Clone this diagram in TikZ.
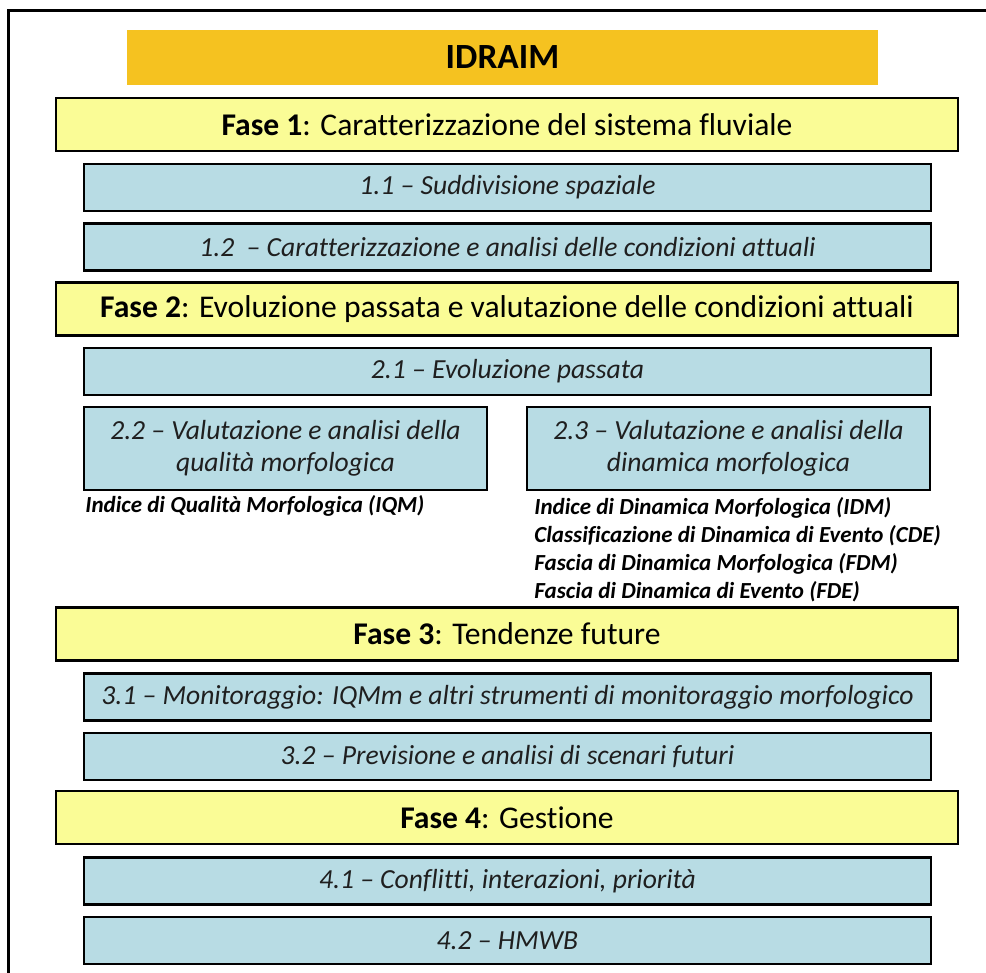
\documentclass[tikz,border=0pt]{standalone}
\usepackage{fontspec}
\setmainfont{Carlito}[Ligatures=NoCommon]
\definecolor{idraimorange}{RGB}{245,194,32}
\definecolor{faseyellow}{RGB}{250,252,150}
\definecolor{subblue}{RGB}{184,220,228}
\begin{document}
\begin{tikzpicture}[x=0.5pt,y=-0.5pt,
    fase/.style={draw, line width=1.2pt, fill=faseyellow, minimum width=451pt, minimum height=26.5pt, inner sep=0pt, font=\fontsize{15.8}{18}\selectfont},
    sub/.style={draw, line width=1.2pt, fill=subblue, minimum width=423.5pt, minimum height=23.5pt, inner sep=0pt, text=black!88, font=\fontsize{13.8}{16}\selectfont\itshape},
    subhalf/.style={sub, minimum width=201.5pt, minimum height=41.5pt, align=center},
    sigla/.style={inner sep=0pt, align=left, font=\fontsize{11.5}{14}\selectfont\bfseries\itshape}]
\useasboundingbox (0,0) rectangle (986,973);
\draw[line width=1.5pt] (8.5,973) -- (8.5,10.5) -- (986,10.5);
\node[fill=idraimorange, minimum width=375.5pt, minimum height=27.5pt, inner sep=0pt, font=\fontsize{17.7}{20}\selectfont\bfseries] (idraim) at (502.5,57.5) {IDRAIM};
\node[fase] (fase1) at (507,124.5) {\textbf{Fase 1}: Caratterizzazione del sistema fluviale};
\node[sub] (s11) at (507.5,187.5) {1.1 -- Suddivisione spaziale};
\node[sub] (s12) at (507.5,247) {1.2 \ -- Caratterizzazione e analisi delle condizioni attuali};
\node[fase] (fase2) at (507,309) {\textbf{Fase 2}: Evoluzione passata e valutazione delle condizioni attuali};
\node[sub] (s21) at (507.5,371.5) {2.1 -- Evoluzione passata};
\node[subhalf] (s22) at (285.5,448.5) {2.2 -- Valutazione e analisi della\\qualità morfologica};
\node[subhalf] (s23) at (728.5,448.5) {2.3 -- Valutazione e analisi della\\dinamica morfologica};
\node[sigla, anchor=west] (iqm) at (85,506) {Indice di Qualità Morfologica (IQM)};
\node[sigla, anchor=north west] (idm) at (534,497) {Indice di Dinamica Morfologica (IDM)\\Classificazione di Dinamica di Evento (CDE)\\Fascia di Dinamica Morfologica (FDM)\\Fascia di Dinamica di Evento (FDE)};
\node[fase] (fase3) at (507,634) {\textbf{Fase 3}: Tendenze future};
\node[sub] (s31) at (507.5,697) {3.1 -- Monitoraggio: IQMm e altri strumenti di monitoraggio morfologico};
\node[sub] (s32) at (507.5,756.5) {3.2 -- Previsione e analisi di scenari futuri};
\node[fase] (fase4) at (507,817.5) {\textbf{Fase 4}: Gestione};
\node[sub] (s41) at (507.5,881) {4.1 -- Conflitti, interazioni, priorità};
\node[sub] (s42) at (507.5,940.5) {4.2 -- HMWB};
\end{tikzpicture}
\end{document}
